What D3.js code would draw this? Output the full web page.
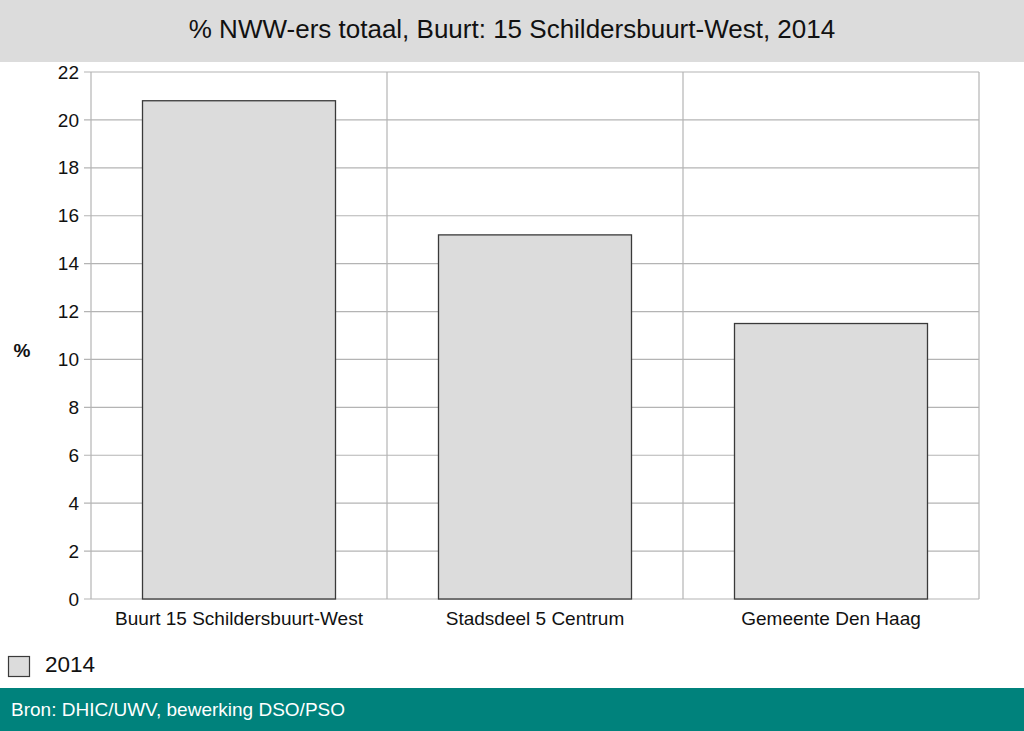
<!DOCTYPE html>
<html><head><meta charset="utf-8">
<script src="https://cdn.jsdelivr.net/npm/d3@7"></script>
<style>body{margin:0;background:#fff;} svg{display:block;}</style>
</head><body>
<svg id="chart" width="1024" height="731"></svg>
<script>
const categories = ["Buurt 15 Schildersbuurt-West", "Stadsdeel 5 Centrum", "Gemeente Den Haag"];
const values2014 = [20.8, 15.2, 11.5];
const yTicks = [0, 2, 4, 6, 8, 10, 12, 14, 16, 18, 20, 22];
const seriesName = "2014";
const titleText = "% NWW-ers totaal, Buurt: 15 Schildersbuurt-West, 2014";
const sourceText = "Bron: DHIC/UWV, bewerking DSO/PSO";
const yLabel = "%";

const font = "'Liberation Sans',Arial,sans-serif";
const svg = d3.select("#chart");
const W = 1024, H = 731;
const m = {left: 91, right: 979, top: 72, bottom: 599};

// title band
svg.append("rect").attr("x",0).attr("y",0).attr("width",W).attr("height",62).attr("fill","#dcdcdc");
svg.append("text").attr("x",512).attr("y",38).attr("text-anchor","middle")
  .attr("font-family",font).attr("font-size",26).attr("fill","#111").text(titleText);

const x = d3.scaleBand().domain(categories).range([m.left, m.right]).paddingInner(0).paddingOuter(0);
const y = d3.scaleLinear().domain([0, 22]).range([m.bottom, m.top]);

// plot background
svg.append("rect").attr("x",m.left).attr("y",m.top).attr("width",m.right-m.left).attr("height",m.bottom-m.top).attr("fill","#fff");

// horizontal grid
svg.append("g").selectAll("line").data(yTicks).join("line")
  .attr("x1",m.left-7).attr("x2",m.right).attr("y1",d=>y(d)).attr("y2",d=>y(d))
  .attr("stroke","#b4b4b4").attr("stroke-width",1.2);
// vertical grid at band boundaries
const bounds = categories.map(c=>x(c)).concat([m.right]);
svg.append("g").selectAll("line").data(bounds).join("line")
  .attr("x1",d=>d).attr("x2",d=>d).attr("y1",m.top).attr("y2",m.bottom)
  .attr("stroke","#b4b4b4").attr("stroke-width",1.2);

// y axis
const yAxis = d3.axisLeft(y).tickValues(yTicks).tickSize(0).tickPadding(12);
const ga = svg.append("g").attr("transform",`translate(${m.left},0)`).call(yAxis);
ga.select(".domain").remove();
ga.selectAll("text").attr("font-family",font).attr("font-size",19).attr("fill","#111");

// bars
const bw = x.bandwidth()*0.652;
svg.append("g").selectAll("rect").data(values2014).join("rect")
  .attr("x",(d,i)=>x(categories[i]) + (x.bandwidth()-bw)/2)
  .attr("y",d=>y(d)).attr("width",bw).attr("height",d=>y(0)-y(d))
  .attr("fill","#dcdcdc").attr("stroke","#3a3a3a").attr("stroke-width",1.3);

// x axis labels
const xAxis = d3.axisBottom(x).tickSize(0).tickPadding(13);
const gx = svg.append("g").attr("transform",`translate(0,${m.bottom})`).call(xAxis);
gx.select(".domain").remove();
gx.selectAll("text").attr("font-family",font).attr("font-size",19).attr("fill","#111");

// y label
svg.append("text").attr("x",22).attr("y",357).attr("text-anchor","middle")
  .attr("font-family",font).attr("font-size",19).attr("font-weight","bold").attr("fill","#111").text(yLabel);

// legend
svg.append("rect").attr("x",8.5).attr("y",656.5).attr("width",21).attr("height",20)
  .attr("fill","#dcdcdc").attr("stroke","#3a3a3a").attr("stroke-width",1.2);
svg.append("text").attr("x",45).attr("y",672).attr("font-family",font).attr("font-size",22.5).attr("fill","#111").text(seriesName);

// footer
svg.append("rect").attr("x",0).attr("y",688).attr("width",W).attr("height",H-688).attr("fill","#00827c");
svg.append("text").attr("x",11).attr("y",716).attr("font-family",font).attr("font-size",19).attr("fill","#fff").text(sourceText);
</script>
</body></html>
